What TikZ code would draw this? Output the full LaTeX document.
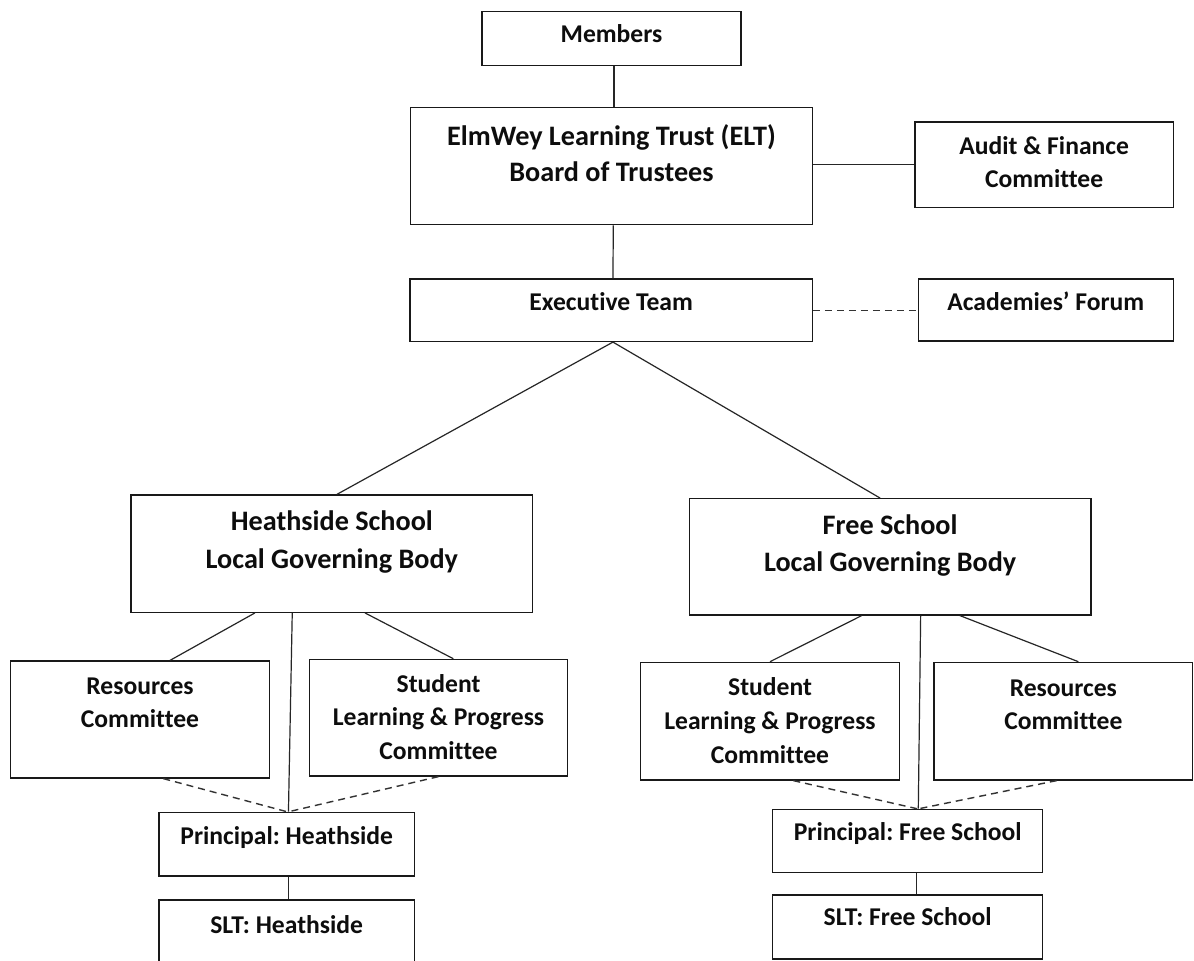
\documentclass[tikz,border=0pt]{standalone}
\usepackage{fontspec}
\setmainfont{Carlito}[Ligatures={NoCommon}]
\newcommand\sx{\rule[-0.178em]{0pt}{1em}}
\begin{document}
\frenchspacing
\begin{tikzpicture}[x=1pt,y=-1pt,
  box/.style={draw=black!90, line width=1.2pt, rectangle, inner sep=0pt},
  txt/.style={inner sep=0pt, align=center, text=black!95, font=\frenchspacing\bfseries\fontsize{25.6pt}{#1}\selectfont},
  txt/.default=33pt,
  bigtxt/.style={inner sep=0pt, align=center, text=black!95, font=\frenchspacing\bfseries\fontsize{28.2pt}{#1}\selectfont},
  conn/.style={draw=black!85, line width=1.2pt},
  dconn/.style={draw=black!80, line width=1.4pt, dash pattern=on 7pt off 5pt}]
\path[use as bounding box, fill=white] (0,0) rectangle (1194,961);

% boxes
\node[box, minimum width=259pt,   minimum height=54pt]    (mem)  at (611.5,38.7) {};
\node[box, minimum width=401.6pt, minimum height=117pt]   (elt)  at (611.5,166.2) {};
\node[box, minimum width=258.3pt, minimum height=85.3pt]  (aud)  at (1044.15,164.65) {};
\node[box, minimum width=402.3pt, minimum height=62.5pt]  (exe)  at (611.15,310.25) {};
\node[box, minimum width=255pt,   minimum height=62pt]    (aca)  at (1045.8,310) {};
\node[box, minimum width=401.7pt, minimum height=117.3pt] (hs)   at (331.85,553.65) {};
\node[box, minimum width=401.7pt, minimum height=116.3pt] (fs)   at (890.15,556.85) {};
\node[box, minimum width=258.6pt, minimum height=117pt]   (hres) at (140,719.5) {};
\node[box, minimum width=258.4pt, minimum height=116.7pt] (hslp) at (438.5,717.65) {};
\node[box, minimum width=258.6pt, minimum height=117.7pt] (fslp) at (770,721.15) {};
\node[box, minimum width=258.7pt, minimum height=117.7pt] (fres) at (1063.35,721.15) {};
\node[box, minimum width=255.3pt, minimum height=63.7pt]  (hpr)  at (286.65,844.15) {};
\node[box, minimum width=270pt,   minimum height=63pt]    (fpr)  at (907.7,840.8) {};
\node[box, minimum width=255.3pt, minimum height=63pt]    (hslt) at (286.65,931.5) {};
\node[box, minimum width=270pt,   minimum height=64pt]    (fslt) at (907.7,927) {};

% texts
\node[txt] (mem-t) at (611.5,34.7) {\sx Members};
\node[bigtxt=36.3pt] (elt-t) at (611.5,154.3) {\sx ElmWey Learning Trust (ELT)\\\sx Board of Trustees};
\node[txt=32.7pt] (aud-t) at (1044.15,162.8) {\sx Audit \& Finance\\\sx Committee};
\node[txt] (exe-t) at (611.15,301.8) {\sx Executive Team};
\node[txt] (aca-t) at (1045.8,301.8) {\sx Academies’ Forum};
\node[bigtxt=37.5pt] (hs-t) at (331.85,540.4) {\sx Heathside School\\\sx Local Governing Body};
\node[bigtxt=37pt] (fs-t) at (890.15,543.5) {\sx Free School\\\sx Local Governing Body};
\node[txt] (hres-t) at (140,702.7) {\sx Resources\\\sx Committee};
\node[txt=33.3pt] (hslp-t) at (438.5,717.5) {\sx Student\\\sx Learning \& Progress\\\sx Committee};
\node[txt=33.8pt] (fslp-t) at (770,721.3) {\sx Student\\\sx Learning \& Progress\\\sx Committee};
\node[txt=32.3pt] (fres-t) at (1063.35,704.6) {\sx Resources\\\sx Committee};
\node[txt] (hpr-t) at (286.65,835.8) {\sx Principal: Heathside};
\node[txt] (fpr-t) at (907.7,832.5) {\sx Principal: Free School};
\node[txt] (hslt-t) at (286.65,925) {\sx SLT: Heathside};
\node[txt] (fslt-t) at (907.7,917.5) {\sx SLT: Free School};

% connectors
\draw[conn] ([xshift=2.5pt]mem.south) -- ([xshift=2.5pt]elt.north);
\draw[conn] (elt.east |- aud.west) -- (aud.west);
\draw[conn] ([xshift=1.8pt]elt.south) -- ([xshift=1.8pt]exe.north);
\draw[dconn] (exe.east) -- (exe.east -| aca.west);
\draw[conn] ([xshift=1.8pt]exe.south) -- ([xshift=5pt]hs.north);
\draw[conn] ([xshift=1.8pt]exe.south) -- ([xshift=-10pt]fs.north);
\draw[conn] ([xshift=-76.9pt]hs.south) -- ([xshift=30pt]hres.north);
\draw[conn] ([xshift=33.1pt]hs.south) -- ([xshift=14.8pt]hslp.north);
\draw[conn] ([xshift=-39.6pt]hs.south) -- ([xshift=1.8pt]hpr.north);
\draw[dconn] ([xshift=23.3pt]hres.south) -- ([xshift=0.3pt]hpr.north);
\draw[dconn] (hslp.south) -- ([xshift=2pt]hpr.north);
\draw[conn] ([xshift=1.6pt]hpr.south) -- ([xshift=1.6pt]hslt.north);
\draw[conn] ([xshift=-28.5pt]fs.south) -- (fslp.north);
\draw[conn] ([xshift=69.8pt]fs.south) -- ([xshift=15pt]fres.north);
\draw[conn] ([xshift=30.5pt]fs.south) -- ([xshift=10.6pt]fpr.north);
\draw[dconn] ([xshift=23.3pt]fslp.south) -- ([xshift=9.3pt]fpr.north);
\draw[dconn] ([xshift=-6.7pt]fres.south) -- ([xshift=11.3pt]fpr.north);
\draw[conn] ([xshift=9pt]fpr.south) -- ([xshift=9pt]fslt.north);
\end{tikzpicture}
\end{document}
